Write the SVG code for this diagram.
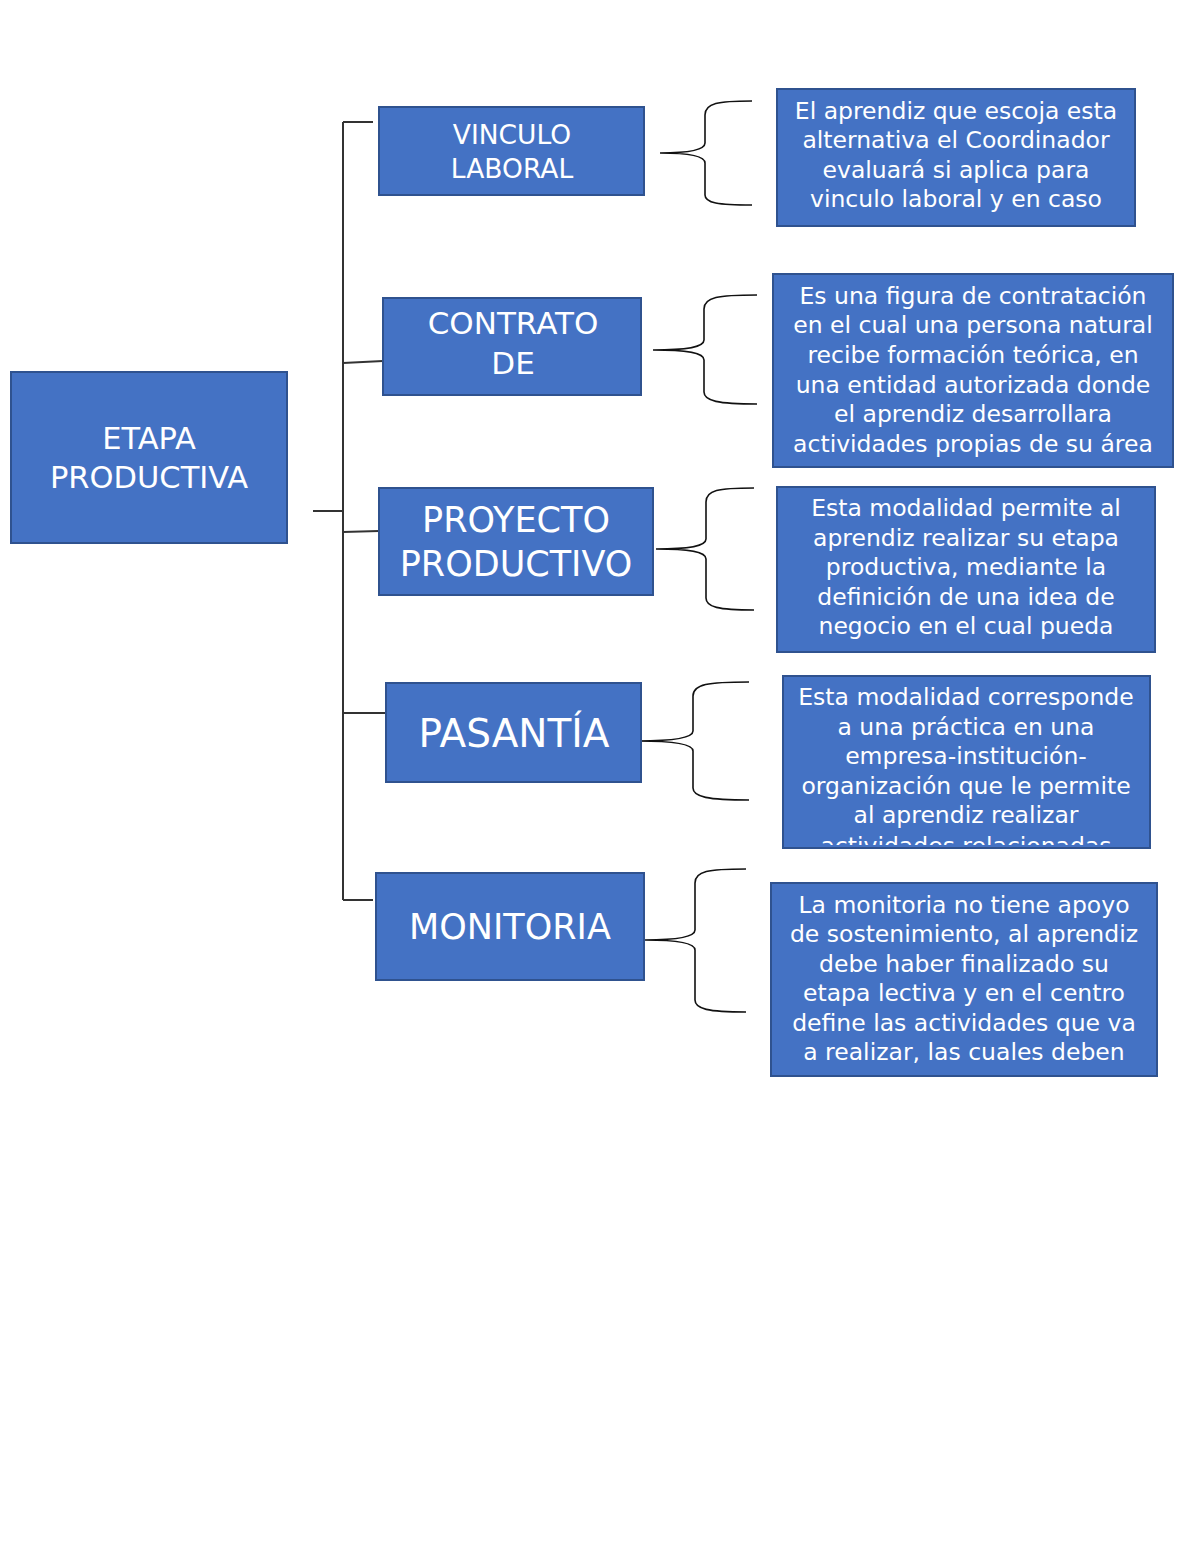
<svg xmlns="http://www.w3.org/2000/svg" width="1200" height="1553" viewBox="0 0 1200 1553">
<style>
.box{fill:#4472C4;stroke:#2F528F;stroke-width:2}
.t{font-family:"DejaVu Sans",sans-serif;fill:#FFFFFF;text-anchor:middle;dominant-baseline:central}
.d{font-size:23.5px}
.c{fill:none;stroke:#333333;stroke-width:2}
.b{fill:none;stroke:#111111;stroke-width:1.6}
</style>
<defs>
<clipPath id="clip1"><rect x="777" y="89" width="358" height="135"/></clipPath>
<clipPath id="clip4"><rect x="783" y="676" width="367" height="169"/></clipPath>
</defs>
<rect width="1200" height="1553" fill="#FFFFFF"/>
<g id="connectors">
<path class="c" d="M343,122 L343,900"/>
<path class="c" d="M343,122 L373,122"/>
<path class="c" d="M313,511 L343,511"/>
<path class="c" d="M343,363 L383,361"/>
<path class="c" d="M343,532 L379,531"/>
<path class="c" d="M343,713 L387,713"/>
<path class="c" d="M343,900 L373,900"/>
<path class="b" d="M752,101 C718,101 705,103 705,115 L705,143 C705,150 690,153 660,153 C690,153 705,156 705,163 L705,195 C705,203 718,205 752,205"/>
<path class="b" d="M757,295 C718,295 704,297 704,309 L704,340 C704,347 688,350 653,350 C688,350 704,353 704,360 L704,392 C704,401 718,404 757,404"/>
<path class="b" d="M754,488 C718,488 706,490 706,502 L706,539 C706,546 690,549 656,549 C690,549 706,552 706,559 L706,598 C706,607 718,610 754,610"/>
<path class="b" d="M749,682 C708,682 693,684 693,696 L693,731 C693,738 675,741 638,741 C675,741 693,744 693,751 L693,788 C693,797 708,800 749,800"/>
<path class="b" d="M746,869 C708,869 695,871 695,883 L695,930 C695,937 678,940 645,940 C678,940 695,943 695,950 L695,1000 C695,1009 708,1012 746,1012"/>
</g>
<g id="etapa">
<rect class="box" x="11" y="372" width="276" height="171"/>
<text class="t" x="149" y="438" font-size="30.5">ETAPA</text>
<text class="t" x="149" y="477" font-size="30.5">PRODUCTIVA</text>
</g>
<g id="vinculo">
<rect class="box" x="379" y="107" width="265" height="88"/>
<text class="t" x="512" y="134" font-size="26.5">VINCULO</text>
<text class="t" x="512" y="168" font-size="26.5">LABORAL</text>
</g>
<g id="contrato">
<rect class="box" x="383" y="298" width="258" height="97"/>
<text class="t" x="513" y="323" font-size="31">CONTRATO</text>
<text class="t" x="513" y="363" font-size="31">DE</text>
</g>
<g id="proyecto">
<rect class="box" x="379" y="488" width="274" height="107"/>
<text class="t" x="516" y="520" font-size="35">PROYECTO</text>
<text class="t" x="516" y="564" font-size="35">PRODUCTIVO</text>
</g>
<g id="pasantia">
<rect class="box" x="386" y="683" width="255" height="99"/>
<text class="t" x="514" y="733" font-size="39">PASANTÍA</text>
</g>
<g id="monitoria">
<rect class="box" x="376" y="873" width="268" height="107"/>
<text class="t" x="510" y="927" font-size="35">MONITORIA</text>
</g>
<g id="desc-vinculo">
<rect class="box" x="777" y="89" width="358" height="137"/>
<g clip-path="url(#clip1)">
<text class="t d" x="956" y="111">El aprendiz que escoja esta</text>
<text class="t d" x="956" y="140">alternativa el Coordinador</text>
<text class="t d" x="956" y="170">evaluará si aplica para</text>
<text class="t d" x="956" y="199">vinculo laboral y en caso</text>
</g>
</g>
<g id="desc-contrato">
<rect class="box" x="773" y="274" width="400" height="193"/>
<text class="t d" x="973" y="296">Es una figura de contratación</text>
<text class="t d" x="973" y="325">en el cual una persona natural</text>
<text class="t d" x="973" y="355">recibe formación teórica, en</text>
<text class="t d" x="973" y="385">una entidad autorizada donde</text>
<text class="t d" x="973" y="414">el aprendiz desarrollara</text>
<text class="t d" x="973" y="444">actividades propias de su área</text>
</g>
<g id="desc-proyecto">
<rect class="box" x="777" y="487" width="378" height="165"/>
<text class="t d" x="966" y="508">Esta modalidad permite al</text>
<text class="t d" x="966" y="538">aprendiz realizar su etapa</text>
<text class="t d" x="966" y="567">productiva, mediante la</text>
<text class="t d" x="966" y="597">definición de una idea de</text>
<text class="t d" x="966" y="626">negocio en el cual pueda</text>
</g>
<g id="desc-pasantia">
<rect class="box" x="783" y="676" width="367" height="172"/>
<g clip-path="url(#clip4)">
<text class="t d" x="966" y="697">Esta modalidad corresponde</text>
<text class="t d" x="966" y="727">a una práctica en una</text>
<text class="t d" x="966" y="756">empresa-institución-</text>
<text class="t d" x="966" y="786">organización que le permite</text>
<text class="t d" x="966" y="815">al aprendiz realizar</text>
<text class="t d" x="966" y="846">actividades relacionadas</text>
</g>
</g>
<g id="desc-monitoria">
<rect class="box" x="771" y="883" width="386" height="193"/>
<text class="t d" x="964" y="905">La monitoria no tiene apoyo</text>
<text class="t d" x="964" y="934">de sostenimiento, al aprendiz</text>
<text class="t d" x="964" y="964">debe haber finalizado su</text>
<text class="t d" x="964" y="993">etapa lectiva y en el centro</text>
<text class="t d" x="964" y="1023">define las actividades que va</text>
<text class="t d" x="964" y="1052">a realizar, las cuales deben</text>
</g>
</svg>
